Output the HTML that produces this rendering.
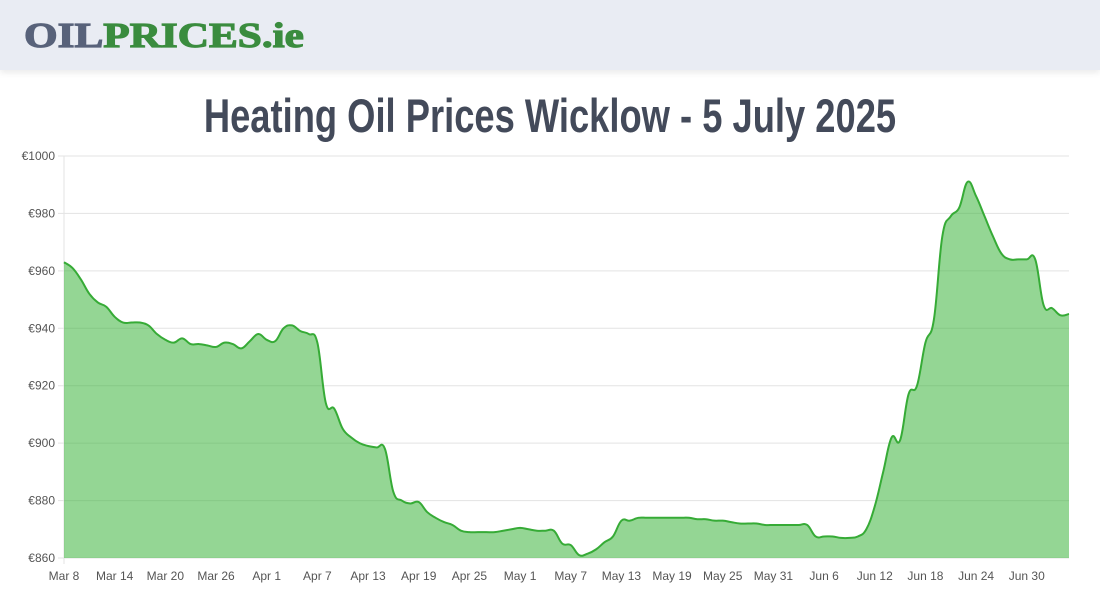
<!DOCTYPE html>
<html><head><meta charset="utf-8"><style>
body{margin:0;width:1100px;height:600px;background:#fff;overflow:hidden;font-family:"Liberation Sans",sans-serif}
#hdr{position:absolute;left:0;top:0;width:1100px;height:70px;background:#e9ecf3;box-shadow:0 3px 6px rgba(0,0,0,0.08)}
#logo{position:absolute;left:24px;top:16px;font-family:"Liberation Serif",serif;font-weight:bold;font-size:35px;white-space:nowrap;transform:scaleX(1.235);transform-origin:left center;-webkit-text-stroke:1.2px currentColor}
#title{position:absolute;left:0;top:88px;width:1100px;text-align:center;font-family:"Liberation Sans",sans-serif;font-size:47px;color:#434a5a;font-weight:bold;transform:scaleX(0.773);transform-origin:550px 0;white-space:nowrap}
</style></head><body>
<div id="hdr">
<div id="logo"><span style="color:#58627a">OIL</span><span style="color:#3a8c3e">PRICES.ie</span></div>
</div>
<div id="title">Heating Oil Prices Wicklow - 5 July 2025</div>
<svg id="chart" width="1100" height="600" style="position:absolute;left:0;top:0"></svg>
<script>
const yTicks=[860,880,900,920,940,960,980,1000];
const xTickLabels=["Mar 8","Mar 14","Mar 20","Mar 26","Apr 1","Apr 7","Apr 13","Apr 19","Apr 25","May 1","May 7","May 13","May 19","May 25","May 31","Jun 6","Jun 12","Jun 18","Jun 24","Jun 30"];
const prices=[963,961,957,952,949,947.5,944,942,942,942,941,938,936,935,936.5,934.5,934.5,934,933.5,935,934.5,933,935.5,938,936,935.5,940,941,939,938,935,914,912,905,902,900,899,898.5,898,883,880,879,879.5,876,874,872.5,871.5,869.5,869,869,869,869,869.5,870,870.5,870,869.5,869.5,869.5,865,864.5,861,861.5,863,865.5,867.5,873,873,874,874,874,874,874,874,874,873.5,873.5,873,873,872.5,872,872,872,871.5,871.5,871.5,871.5,871.5,871.5,867.5,867.5,867.5,867,867,867.5,870,878,890,902,901,917,920,935,943,972,979,982,991,986,979,972,966,964,964,964,964,948,947,944.5,945];
const NS="http://www.w3.org/2000/svg";
const svg=document.getElementById('chart');
const X0=64,X1=1069,Y0=558,Y1=156,YMIN=860,YMAX=1000;
const xs=i=>X0+(X1-X0)*i/(prices.length-1);
const ys=v=>Y0-(v-YMIN)/(YMAX-YMIN)*(Y0-Y1);
function mk(t,a){const e=document.createElementNS(NS,t);for(const k in a)e.setAttribute(k,a[k]);svg.appendChild(e);return e;}
yTicks.forEach(v=>{
  const l=mk('line',{x1:58,x2:X1,y1:ys(v),y2:ys(v),stroke:'#e3e3e3','stroke-width':1});
  
  
  const t=mk('text',{x:55,y:ys(v)+4,'text-anchor':'end','font-size':12,fill:'#555','font-family':'Liberation Sans'});
  t.textContent='€'+v;
  
  
});
const ax=mk('line',{x1:X0,x2:X0,y1:Y1,y2:Y0+6,stroke:'#e3e3e3'});


xTickLabels.forEach((s,k)=>{
  const t=mk('text',{x:xs(k*6),y:580,'text-anchor':'middle','font-size':12,fill:'#555','font-family':'Liberation Sans'});
  t.textContent=s;
  
  
});
const pts=prices.map((v,i)=>[xs(i),ys(v)]);
let d='M'+pts[0][0]+','+pts[0][1];
const tn=0.2;
for(let i=0;i<pts.length-1;i++){
  const p0=pts[Math.max(0,i-1)],p1=pts[i],p2=pts[i+1],p3=pts[Math.min(pts.length-1,i+2)];
  const c1x=p1[0]+(p2[0]-p0[0])*tn,c1y=p1[1]+(p2[1]-p0[1])*tn;
  const c2x=p2[0]-(p3[0]-p1[0])*tn,c2y=p2[1]-(p3[1]-p1[1])*tn;
  d+=' C'+c1x+','+c1y+' '+c2x+','+c2y+' '+p2[0]+','+p2[1];
}
const area=mk('path',{d:d+' L'+X1+','+Y0+' L'+X0+','+Y0+' Z',fill:'rgba(60,180,60,0.55)',stroke:'none'});


const line=mk('path',{d:d,fill:'none',stroke:'#36ab36','stroke-width':2});


</script>
</body></html>
